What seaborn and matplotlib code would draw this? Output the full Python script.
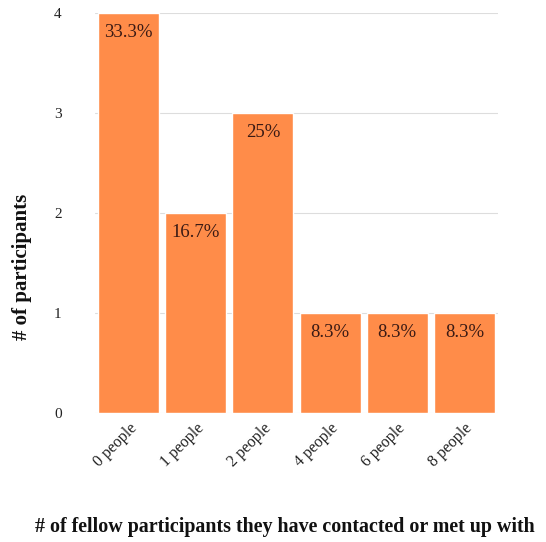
import matplotlib
matplotlib.use("Agg")
import matplotlib.pyplot as plt
import seaborn as sns
import pandas as pd

categories = ["0 people", "1 people", "2 people", "4 people", "6 people", "8 people"]
counts = [4, 2, 3, 1, 1, 1]
pct_labels = ["33.3%", "16.7%", "25%", "8.3%", "8.3%", "8.3%"]

sns.set_theme(style="white")
plt.rcParams["font.family"] = ["Liberation Serif", "DejaVu Serif"]

df = pd.DataFrame({"cat": categories, "n": counts})

fig = plt.figure(figsize=(5.46, 5.42), dpi=100)
ax = fig.add_axes([0.174, 0.238, 0.738, 0.738])
sns.barplot(data=df, x="cat", y="n", color="#FF8C49", saturation=1, width=0.91, ax=ax, zorder=3)

ax.set_ylim(0, 4)
ax.set_yticks([0, 1, 2, 3, 4])
ax.yaxis.grid(True, color="#dddddd", linewidth=0.8, zorder=0)
ax.xaxis.grid(False)
for s in ax.spines.values():
    s.set_visible(False)
ax.tick_params(axis="y", length=0, pad=24, labelsize=11, colors="#222222")
ax.tick_params(axis="x", length=0, pad=5, labelsize=11.5, colors="#222222")
plt.setp(ax.get_xticklabels(), rotation=45, ha="right", rotation_mode="anchor")

for p, lab in zip(ax.patches, pct_labels):
    x = p.get_x() + p.get_width() / 2
    ax.annotate(lab, (x, p.get_height()), xytext=(0, -8), textcoords="offset points",
                ha="center", va="top", fontsize=13.5, color="#3a1a14", zorder=5)

ax.set_xlabel("")
ax.set_ylabel("")
fig.text(0.04, 0.507, "# of participants", rotation=90, ha="center", va="center",
         fontsize=15, fontweight="bold", color="#111111")
fig.text(0.522, 0.028, "# of fellow participants they have contacted or met up with",
         ha="center", va="center", fontsize=14.4, fontweight="bold", color="#111111")

fig.savefig("out.png", dpi=100)
